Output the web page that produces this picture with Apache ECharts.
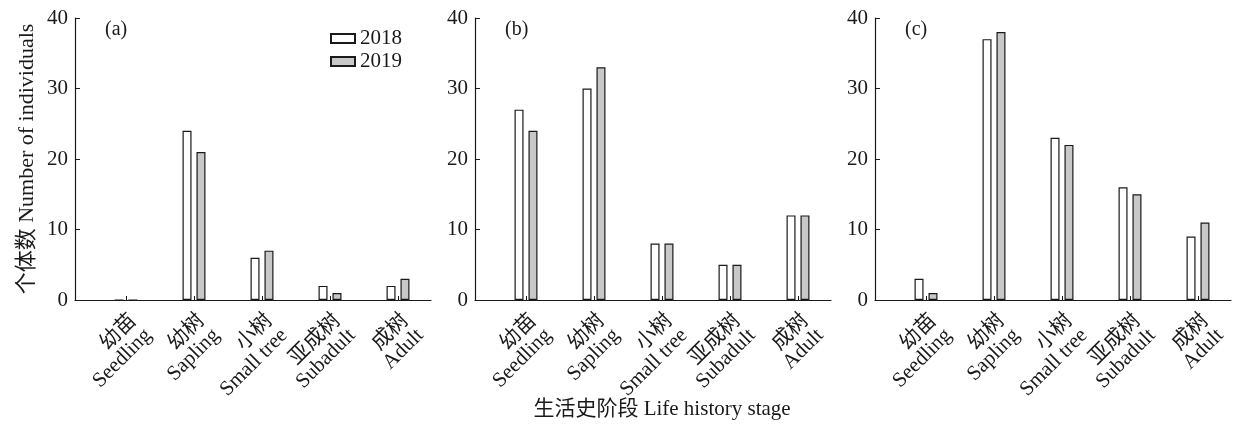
<!DOCTYPE html>
<html>
<head>
<meta charset="utf-8">
<script src="https://cdn.jsdelivr.net/npm/echarts@6/dist/echarts.min.js"></script>
<style>
  html, body { margin: 0; padding: 0; background: #fff; }
  #chart { width: 1233px; height: 427px; }
</style>
</head>
<body>
<div id="chart"></div>
<script>
const stages = ['幼苗\nSeedling', '幼树\nSapling', '小树\nSmall tree', '亚成树\nSubadult', '成树\nAdult'];
const years = ['2018', '2019'];
const panelLabels = ['(a)', '(b)', '(c)'];
const yTicks = [0, 10, 20, 30, 40];

// counts per panel
const a2018 = [0, 24, 6, 2, 2];
const a2019 = [0, 21, 7, 1, 3];
const b2018 = [27, 30, 8, 5, 12];
const b2019 = [24, 33, 8, 5, 12];
const c2018 = [3, 37, 23, 16, 9];
const c2019 = [1, 38, 22, 15, 11];
const panels = [[a2018, a2019], [b2018, b2019], [c2018, c2019]];

const FONT = '"Times New Roman", "Liberation Serif", "Noto Sans CJK SC", serif';
const INK = '#1a1a1a';
const yearColors = ['#ffffff', '#c8c8c8'];

const panelLeft = [75, 475, 875];
const TOP = 18, H = 282;

const grid = [], xAxis = [], yAxis = [], series = [], title = [];

panelLeft.forEach((x0, p) => {
  // frame grid: carries the y axis and the full-length x axis line
  grid.push({ left: x0, top: TOP, width: 356, height: H, outerBoundsMode: 'none' });
  // bar grid: category bands start a bit right of the y axis
  grid.push({ left: x0 + 17, top: TOP, width: 340, height: H, outerBoundsMode: 'none' });
  const g0 = p * 2, g1 = p * 2 + 1;

  xAxis.push({
    gridIndex: g0, type: 'value', min: 0, max: 1,
    axisLine: { show: true, lineStyle: { color: INK, width: 1.2 } },
    axisTick: { show: false }, axisLabel: { show: false }, splitLine: { show: false }
  });
  xAxis.push({
    gridIndex: g1, type: 'category', data: stages,
    axisLine: { show: false },
    axisTick: { show: true, alignWithLabel: true, inside: true, length: 4, lineStyle: { color: INK } },
    axisLabel: {
      rotate: 45, interval: 0, margin: 10, color: INK, fontFamily: FONT,
      fontSize: 21, lineHeight: 21, verticalAlign: 'top', align: 'right'
    },
    name: p === 1 ? '生活史阶段 Life history stage' : '',
    nameLocation: 'middle', nameGap: 99, nameMoveOverlap: false,
    nameTextStyle: { color: INK, fontFamily: FONT, fontSize: 21 }
  });

  yAxis.push({
    gridIndex: g0, type: 'value', min: yTicks[0], max: yTicks[yTicks.length - 1], interval: 10,
    axisLine: { show: true, lineStyle: { color: INK, width: 1.2 } },
    axisTick: { show: true, inside: true, length: 5, lineStyle: { color: INK } },
    axisLabel: { color: INK, fontFamily: FONT, fontSize: 21, margin: 7 },
    splitLine: { show: false },
    name: p === 0 ? '个体数 Number of individuals' : '',
    nameLocation: 'middle', nameGap: 37, nameMoveOverlap: false,
    nameTextStyle: { color: INK, fontFamily: FONT, fontSize: 22 }
  });
  yAxis.push({
    gridIndex: g1, type: 'value', min: yTicks[0], max: yTicks[yTicks.length - 1], show: false
  });

  years.forEach((yr, k) => {
    series.push({
      name: yr, type: 'bar', xAxisIndex: g1, yAxisIndex: g1,
      data: panels[p][k], barWidth: 9, barGap: '55%',
      itemStyle: { color: yearColors[k], borderColor: INK, borderWidth: 1.2 },
      emphasis: { disabled: true }
    });
  });

  title.push({
    text: panelLabels[p], left: x0 + 25, top: 15,
    textStyle: { color: INK, fontFamily: FONT, fontSize: 20, fontWeight: 'normal' }
  });
});

const chart = echarts.init(document.getElementById('chart'));
chart.setOption({
  animation: false,
  title: title,
  legend: {
    data: years, orient: 'vertical', left: 325, top: 23,
    itemWidth: 24, itemHeight: 9, itemGap: 2, icon: 'rect',
    textStyle: { color: INK, fontFamily: FONT, fontSize: 21, padding: [0, 0, 0, 0] }
  },
  grid: grid, xAxis: xAxis, yAxis: yAxis, series: series
});
</script>
</body>
</html>
